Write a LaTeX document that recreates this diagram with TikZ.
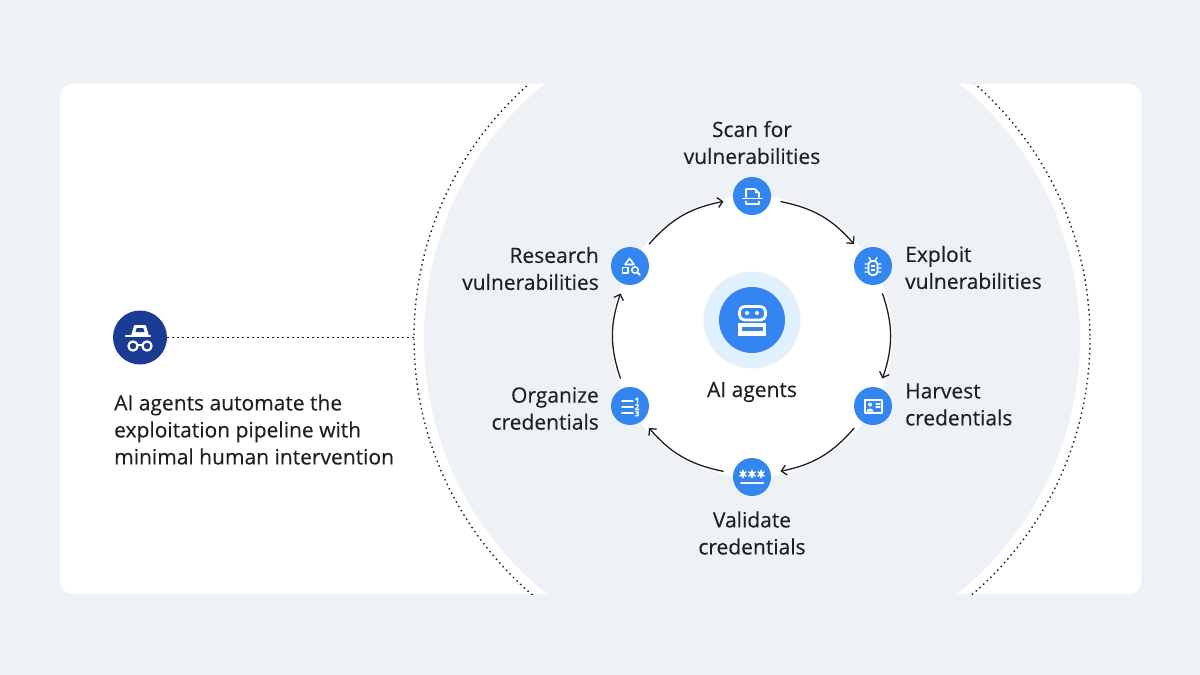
\documentclass[tikz,border=0pt]{standalone}
\usepackage{xcolor}
\usepackage{fontspec}
\setmainfont{Open Sans}[FakeBold=0.25]
\definecolor{pagegray}{HTML}{EEF2F7}
\definecolor{stepblue}{HTML}{3385F0}
\definecolor{halo}{HTML}{E0F0FE}
\definecolor{spyblue}{HTML}{1B3C94}
\definecolor{ink}{HTML}{1F1F1F}
\usetikzlibrary{arrows.meta}

\begin{document}
\begin{tikzpicture}[x=1pt,y=-1pt,
			>={Straight Barb[length=5pt,width=10pt]},
			stepnode/.style={circle,fill=stepblue,minimum size=38pt,inner sep=0pt,outer sep=10pt},
			label/.style={font=\fontsize{21}{27}\selectfont,text=ink,inner sep=0pt},
			flow/.style={->,draw=ink,line width=1.3pt},
			ringline/.style={draw=ink,line width=1.4pt,dash pattern=on 1.5pt off 3.5pt},
			icon/.style={draw=white,line width=1.7pt,line join=round,line cap=round},
			]
			\useasboundingbox (0,0) rectangle (1200,675);
			\fill[pagegray] (0,0) rectangle (1200,675);
			\node[fill=white,rounded corners=12pt,minimum width=1081pt,minimum height=510pt,inner sep=0pt] (card) at (600.5,339) {};
			\begin{scope}
				\clip (60,84) rectangle (1141,594);
				\draw[ringline] (752,338) circle (338);
			\end{scope}
			\fill[pagegray] (752,338) circle (328);
			\fill[white] (752,336.5) circle (140.5);

			\node[circle,fill=halo,minimum size=97pt,inner sep=0pt] (halo) at (752,320) {};
			\node[circle,fill=stepblue,minimum size=66pt,inner sep=0pt] (hub) at (752,320) {};
			\node[stepnode] (scan) at (752,196) {};
			\node[stepnode] (exploit) at (873,266) {};
			\node[stepnode] (harvest) at (873,406) {};
			\node[stepnode] (validate) at (752,477) {};
			\node[stepnode] (organize) at (630,406) {};
			\node[stepnode] (research) at (630,266) {};
			\node[circle,fill=spyblue,minimum size=54pt,inner sep=0pt,outer sep=0pt] (spy) at (140,337.5) {};
			\coordinate (ringedge) at (414,337.5);

			\draw[flow] (scan) to[bend left=19] (exploit);
			\draw[flow] (exploit) to[bend left=19] (harvest);
			\draw[flow] (harvest) to[bend left=19] (validate);
			\draw[flow] (validate) to[bend left=19] (organize);
			\draw[flow] (organize) to[bend left=19] (research);
			\draw[flow] (research) to[bend left=19] (scan);
			\draw[ringline] (spy) -- (ringedge);

			\node[label,align=center,anchor=center] (scanlabel) at (752,142.5) {Scan for\\vulnerabilities};
			\node[label,align=left,anchor=west] (exploitlabel) at (905,267.5) {Exploit\\vulnerabilities};
			\node[label,align=left,anchor=west] (harvestlabel) at (905,404.5) {Harvest\\credentials};
			\node[label,align=center,anchor=center] (validatelabel) at (752,533) {Validate\\credentials};
			\node[label,align=right,anchor=east] (organizelabel) at (599,408.5) {Organize\\credentials};
			\node[label,align=right,anchor=east] (researchlabel) at (599,268.5) {Research\\vulnerabilities};
			\node[label] (hublabel) at (752,392) {AI agents};
			\node[label,align=left,anchor=west] (spylabel) at (114,429.5) {AI agents automate the\\exploitation pipeline with\\minimal human intervention};

			\draw[icon,line width=2.8pt,rounded corners=5pt] (739.5,306.5) rectangle (765.5,320);
			\fill[white] (747,313) circle (2) (757,313) circle (2);
			\fill[white] (738,323) rectangle (766,335.5);
			\fill[stepblue] (742,327) rectangle (762.5,331);

			\draw[icon] (746,197) -- (746,189) -- (755,189) -- (759,193) -- (759,197);
			\fill[white] (755,189) -- (759,193) -- (755,193) -- cycle;
			\draw[icon] (743,198.5) -- (762,198.5);
			\draw[icon] (746,201.5) -- (746,204) -- (759,204) -- (759,201.5);

			\draw[icon,rounded corners=3.5pt] (868.5,261) rectangle (877.5,275);
			\draw[icon,line width=1.3pt] (871.5,266) -- (874.5,266) (871.5,270) -- (874.5,270);
			\draw[icon,line width=1.3pt] (865,264) -- (867.5,264) (865,268) -- (867.5,268) (865,272) -- (867.5,272)
				(878.5,264) -- (881,264) (878.5,268) -- (881,268) (878.5,272) -- (881,272)
				(869,257.5) -- (871,261) (877,257.5) -- (875,261);

			\draw[icon,line width=1.6pt] (629.5,258.5) -- (625,264.5) -- (634,264.5) -- cycle;
			\draw[icon,line width=1.6pt] (622.5,267.5) rectangle (628,273);
			\draw[icon,line width=1.5pt] (635,270) circle (3.2);
			\draw[icon,line width=1.8pt] (637.5,272.5) -- (640,275);

			\draw[icon] (622,401) -- (633,401) (622,407) -- (633,407) (622,413) -- (633,413);
			\node[font=\bfseries\fontsize{8}{8}\selectfont,text=white,inner sep=0pt] (numone) at (637,400.5) {1};
			\node[font=\bfseries\fontsize{8}{8}\selectfont,text=white,inner sep=0pt] (numtwo) at (637,407) {2};
			\node[font=\bfseries\fontsize{8}{8}\selectfont,text=white,inner sep=0pt] (numthree) at (637,413.5) {3};

			\draw[icon,line width=1.6pt] (865,400) rectangle (882,413);
			\fill[white] (870,404.5) circle (2);
			\fill[white] (866.5,411.5) .. controls (867,407.5) and (873,407.5) .. (873.5,411.5) -- cycle;
			\draw[icon,line width=1.3pt] (876,404) -- (880,404) (876,407) -- (880,407);

			\foreach \sx in {743,752,761} {
				\draw[icon,line width=1.6pt] (\sx,470.5) -- (\sx,477.5) (\sx-3,472) -- (\sx+3,476) (\sx-3,476) -- (\sx+3,472);
			}
			\draw[icon,line width=2pt] (741,482.5) -- (763,482.5);

			\draw[icon,line width=2.2pt] (126,336) -- (150,336);
			\draw[icon,line width=2pt] (132,336) -- (135,326) -- (145,326) -- (148,336);
			\fill[white] (132,336) -- (135,326) -- (145,326) -- (148,336) -- cycle;
			\fill[spyblue] (135.5,332) -- (136.8,328) -- (143.2,328) -- (144.5,332) -- cycle;
			\draw[icon,line width=2.2pt] (133,346) circle (4.6) (147,346) circle (4.6);
			\draw[icon,line width=1.8pt] (137.5,345) -- (142.5,345);
		\end{tikzpicture}
\end{document}
